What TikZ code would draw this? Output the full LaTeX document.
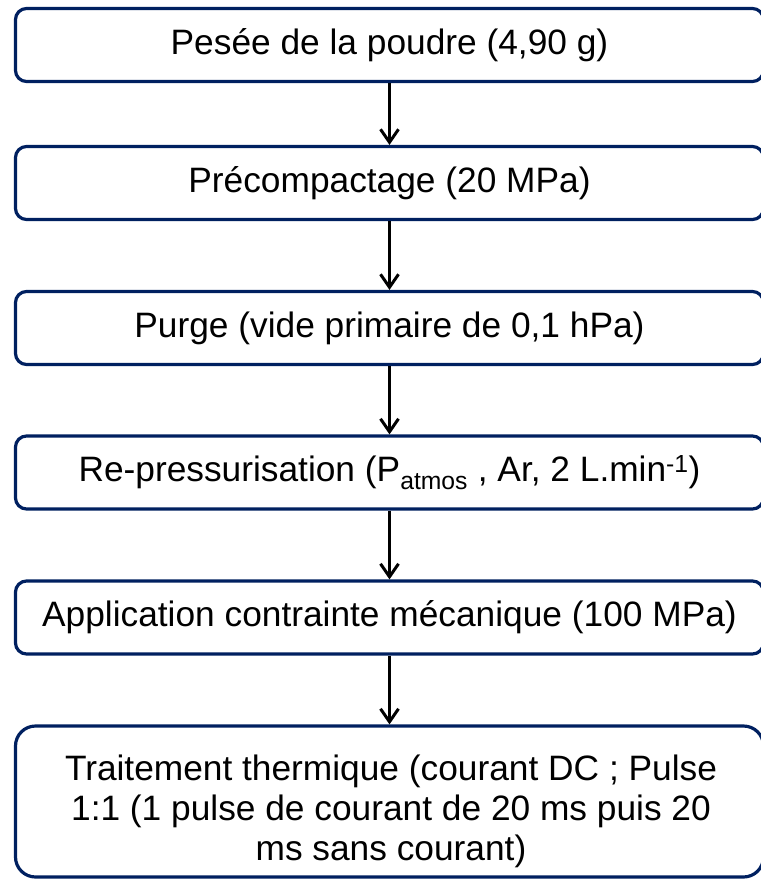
\documentclass[tikz,border=0pt]{standalone}
\usepackage{fontspec}
\setmainfont{Liberation Sans}
\usepackage{xcolor}
\usetikzlibrary{arrows.meta}
\definecolor{navy}{HTML}{002060}
\tikzset{every node/.append style={font=\fontsize{35.3}{40}\selectfont}}
\tikzset{stepbox/.style={draw=navy, line width=3.2pt, rounded corners=11pt, minimum width=748pt, minimum height=73pt, inner sep=0pt}}

\begin{document}
\begin{tikzpicture}[x=1pt, y=-1pt, >={Straight Barb[length=13pt, width=18pt, line width=3pt]}]
    \useasboundingbox (0,0) rectangle (761,879);
    \node[stepbox] (pesee) at (389.5,45) {Pesée de la poudre (4,90 g)};
    \node[stepbox] (precomp) at (389.5,183) {Précompactage (20 MPa)};
    \node[stepbox] (purge) at (389.5,328) {Purge (vide primaire de 0,1 hPa)};
    \node[stepbox] (repress) at (389.5,472.5) {Re-pressurisation (P\textsubscript{atmos} , Ar, 2 L.min\textsuperscript{-1})};
    \node[stepbox] (contrainte) at (389.5,617.5) {Application contrainte mécanique (100 MPa)};
    \node[stepbox, minimum height=151pt, rounded corners=20pt] (traitement) at (389.5,801.5) {};
    \node[align=center] (txt) at (391,811)
        {Traitement thermique (courant DC ; Pulse\\1:1 (1 pulse de courant de 20 ms puis 20\\ms sans courant)};
    \draw[->, line width=3pt] (pesee) -- (precomp);
    \draw[->, line width=3pt] (precomp) -- (purge);
    \draw[->, line width=3pt] (purge) -- (repress);
    \draw[->, line width=3pt] (repress) -- (contrainte);
    \draw[->, line width=3pt] (contrainte) -- (traitement);
\end{tikzpicture}
\end{document}
